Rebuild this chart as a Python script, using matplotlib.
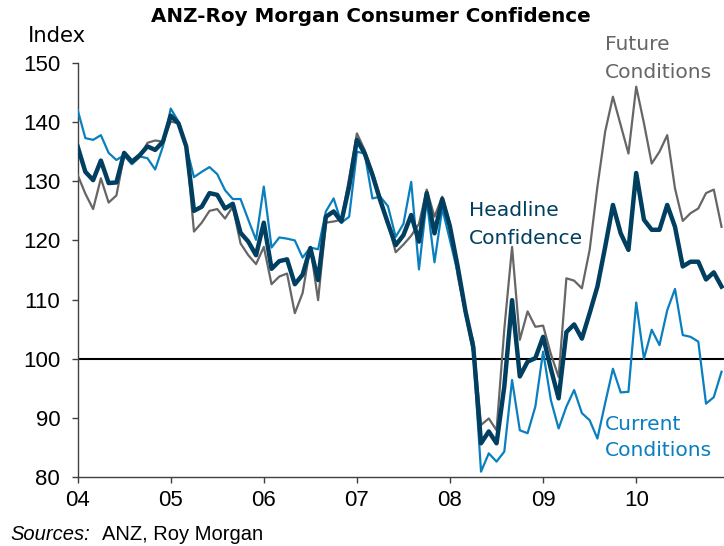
import matplotlib
matplotlib.use("Agg")
import matplotlib.pyplot as plt
import numpy as np

# Monthly data, Jan 2004 - Dec 2010
headline = [
    135.9, 131.6, 130.2, 133.5, 129.7, 129.8, 134.8, 133.3, 134.4, 135.9, 135.3, 136.7,
    141.1, 139.8, 135.9, 125.0, 125.7, 128.0, 127.7, 125.4, 126.2, 121.3, 119.8, 117.5,
    123.0, 115.2, 116.5, 116.8, 112.6, 114.2, 118.7, 113.3, 124.0, 124.9, 123.2, 129.1,
    137.0, 134.7, 131.1, 126.8, 122.9, 119.2, 120.9, 124.3, 119.8, 128.0, 121.2, 127.0,
    122.3, 115.5, 108.0, 102.0, 85.7, 87.7, 85.7, 95.3, 109.9, 97.0, 99.5, 100.1,
    103.7, 98.3, 93.3, 104.5, 105.8, 103.4, 107.7, 112.2, 118.9, 126.0, 121.2, 118.4,
    131.4, 123.5, 121.8, 121.8, 126.0, 122.3, 115.6, 116.4, 116.4, 113.4, 114.6, 112.2,
]
future = [
    131.1, 127.9, 125.3, 130.5, 126.4, 127.6, 134.4, 132.9, 134.1, 136.5, 136.9, 136.7,
    140.1, 139.8, 136.0, 121.5, 123.0, 125.0, 125.3, 123.7, 125.7, 119.5, 117.5, 116.0,
    118.9, 112.6, 113.9, 114.4, 107.7, 111.1, 118.9, 109.9, 123.0, 123.2, 123.5, 130.5,
    138.1, 135.3, 131.6, 127.4, 122.9, 118.0, 119.3, 120.8, 122.8, 128.6, 124.0, 127.4,
    122.9, 114.0, 107.5, 103.0, 88.8, 89.9, 87.9, 105.0, 118.9, 103.2, 108.0, 105.4,
    105.6, 100.8, 96.9, 113.6, 113.2, 111.9, 118.4, 129.1, 138.4, 144.3, 139.5, 134.7,
    146.0, 139.8, 133.0, 135.0, 137.8, 128.8, 123.3, 124.6, 125.4, 128.0, 128.6, 122.3,
]
current = [
    142.1, 137.3, 137.0, 137.8, 134.8, 133.6, 134.4, 132.9, 134.2, 133.9, 132.0, 135.9,
    142.3, 140.1, 135.9, 130.7, 131.6, 132.4, 131.2, 128.5, 127.0, 127.0, 123.5, 120.1,
    129.1, 118.8, 120.5, 120.3, 120.0, 117.1, 118.8, 118.5, 124.9, 127.1, 123.0, 124.0,
    135.0, 134.7, 127.1, 127.4, 125.8, 120.6, 122.8, 129.9, 115.1, 126.8, 116.3, 125.4,
    120.0, 114.5, 107.5, 101.0, 80.9, 84.0, 82.6, 84.3, 96.4, 87.9, 87.4, 91.9,
    101.2, 93.0, 88.2, 91.9, 94.7, 90.8, 89.6, 86.5, 92.5, 98.3, 94.3, 94.4,
    109.5, 100.0, 104.9, 102.3, 108.2, 111.8, 104.0, 103.7, 102.9, 92.4, 93.5, 97.8,
]
year_ticks = [2004, 2005, 2006, 2007, 2008, 2009, 2010]
year_labels = ["04", "05", "06", "07", "08", "09", "10"]
y_ticks = [80, 90, 100, 110, 120, 130, 140, 150]

W, H = 724, 546
C_HEAD = "#003f5f"
C_FUT = "#666666"
C_CUR = "#0a7fbf"

arial = ["Liberation Sans", "DejaVu Sans"]

fig = plt.figure(figsize=(W / 100, H / 100), dpi=100)
left, right, top, bottom = 77.6, 724, 63, 477
ax = fig.add_axes([left / W, 1 - bottom / H, (right - left) / W, (bottom - top) / H])

x = 2004 + np.arange(len(headline)) / 12.0
ax.plot(x, future, color=C_FUT, lw=1.6, zorder=3)
ax.plot(x, current, color=C_CUR, lw=1.6, zorder=3)
ax.plot(x, headline, color=C_HEAD, lw=3.2, zorder=4)
ax.axhline(100, color="black", lw=1.5, zorder=2)

ax.set_xlim(2004, 2004 + (right - left) / 93.1)
ax.set_ylim(80, 150)
ax.set_xticks(year_ticks)
ax.set_xticklabels(year_labels)
ax.set_yticks(y_ticks)
for s in ["top", "right"]:
    ax.spines[s].set_visible(False)
for s in ["left", "bottom"]:
    ax.spines[s].set_color("#404040")
    ax.spines[s].set_linewidth(1.0)
ax.tick_params(axis="both", direction="out", length=4.5, width=1.0, color="#404040",
               labelsize=16)
ax.tick_params(axis="y", pad=8)
ax.tick_params(axis="x", pad=5)
for lab in ax.get_xticklabels() + ax.get_yticklabels():
    lab.set_family(arial)

def ftext(px, py, s, **kw):
    fig.text(px / W, 1 - py / H, s, **kw)

ftext(371, 17, "ANZ-Roy Morgan Consumer Confidence", ha="center", va="center",
      fontsize=14.3, fontweight="bold", family="DejaVu Sans")
ftext(28, 36, "Index", ha="left", va="center", fontsize=15.2, family="DejaVu Sans")
fs = 14.6
ftext(605, 44, "Future", ha="left", va="center", fontsize=fs, color=C_FUT)
ftext(605, 72, "Conditions", ha="left", va="center", fontsize=fs, color=C_FUT)
ftext(469, 211, "Headline", ha="left", va="center", fontsize=fs, color=C_HEAD)
ftext(469, 238, "Confidence", ha="left", va="center", fontsize=fs, color=C_HEAD)
ftext(605, 424, "Current", ha="left", va="center", fontsize=fs, color=C_CUR)
ftext(605, 451, "Conditions", ha="left", va="center", fontsize=fs, color=C_CUR)

ftext(10, 534, "Sources:", ha="left", va="center", fontsize=14.5, style="italic", family=arial)
ftext(102, 534, "ANZ, Roy Morgan", ha="left", va="center", fontsize=14.5, family=arial)

fig.savefig("out.png", dpi=100)
